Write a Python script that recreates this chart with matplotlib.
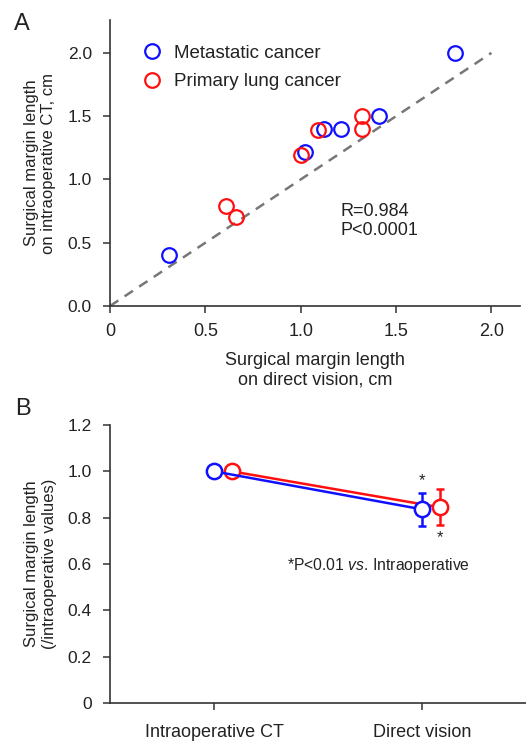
import matplotlib.pyplot as plt
import numpy as np

plt.rcParams['font.family'] = ['Liberation Sans', 'DejaVu Sans']
plt.rcParams['mathtext.fontset'] = 'custom'
plt.rcParams['mathtext.rm'] = 'Liberation Sans'
plt.rcParams['mathtext.it'] = 'Liberation Sans:italic'
plt.rcParams['text.color'] = '#222222'
plt.rcParams['axes.labelcolor'] = '#222222'
plt.rcParams['xtick.color'] = '#222222'
plt.rcParams['ytick.color'] = '#222222'

# panel A data: direct vision (x) vs intraoperative CT (y), cm
meta_direct = [0.31, 1.02, 1.12, 1.21, 1.41, 1.81]
meta_ct = [0.40, 1.22, 1.40, 1.40, 1.50, 2.00]
prim_direct = [0.61, 0.66, 1.00, 1.09, 1.32, 1.32]
prim_ct = [0.79, 0.70, 1.19, 1.39, 1.50, 1.40]

# panel B data: ratio to intraoperative values
groups = ['Intraoperative CT', 'Direct vision']
meta_ratio = [1.0, 0.836]
meta_err = [0.0, 0.07]
prim_ratio = [1.0, 0.845]
prim_err = [0.0, 0.077]

blue = '#1010ff'
red = '#ff1010'
axcol = '#333333'

fig = plt.figure(figsize=(5.26, 7.42), dpi=100)

## --Panel A
ax1 = fig.add_axes([110/526, 1-306/742, 410/526, 286/742])
ax1.plot([0, 2], [0, 2], ls=(0, (4, 3)), color='#777777', lw=1.8, zorder=1)
ax1.plot(meta_direct, meta_ct, 'o', mfc='none', mec=blue, mew=1.6, ms=10.5,
         label='Metastatic cancer', zorder=3)
ax1.plot(prim_direct, prim_ct, 'o', mfc='none', mec=red, mew=1.6, ms=10.5,
         label='Primary lung cancer', zorder=3)
ax1.set_xlim(0, 2.15)
ax1.set_ylim(0, 2.26)
ax1.set_xticks([0, 0.5, 1.0, 1.5, 2.0])
ax1.set_xticklabels(['0', '0.5', '1.0', '1.5', '2.0'])
ax1.set_yticks([0, 0.5, 1.0, 1.5, 2.0])
ax1.set_yticklabels(['0.0', '0.5', '1.0', '1.5', '2.0'])
ax1.set_xlabel('Surgical margin length\non direct vision, cm', fontsize=13, labelpad=9,
               linespacing=1.2)
ax1.set_ylabel('Surgical margin length\non intraoperative CT, cm', fontsize=12, labelpad=8)
ax1.text(1.21, 0.81, 'R=0.984\nP<0.0001', fontsize=13, va='top', linespacing=1.15)
leg = ax1.legend(loc='upper left', frameon=False, fontsize=13.5, handletextpad=0.35,
                 bbox_to_anchor=(0.048, 0.94), borderaxespad=0, labelspacing=0.6,
                 handlelength=1.6)

## --Panel B
ax2 = fig.add_axes([110/526, 1-703/742, 416/526, 278/742])
xb = np.arange(1, len(groups)+1)
ax2.errorbar(xb, meta_ratio, yerr=meta_err, fmt='-o', color=blue, mfc='white',
             mec=blue, mew=1.8, ms=11, lw=1.8, capsize=3, capthick=1.8, zorder=3)
ax2.errorbar(xb+0.085, prim_ratio, yerr=prim_err, fmt='-o', color=red, mfc='white',
             mec=red, mew=1.8, ms=11, lw=1.8, capsize=3, capthick=1.8, zorder=2)
ax2.text(xb[1], 0.958, '*', ha='center', va='center', fontsize=12)
ax2.text(xb[1]+0.085, 0.712, '*', ha='center', va='center', fontsize=12)
ax2.text(1.35, 0.593, '*P<0.01 $\\it{vs}$. Intraoperative', fontsize=11.3, va='center')
ax2.set_xlim(0.5, 2.5)
ax2.set_ylim(0, 1.2)
ax2.set_xticks(xb)
ax2.set_xticklabels(groups)
ax2.set_yticks([0, 0.2, 0.4, 0.6, 0.8, 1.0, 1.2])
ax2.set_yticklabels(['0', '0.2', '0.4', '0.6', '0.8', '1.0', '1.2'])
ax2.set_ylabel('Surgical margin length\n(/intraoperative values)', fontsize=12, labelpad=8)

fig.text(22/526, 1-24/742, 'A', fontsize=17, ha='center', va='center')
fig.text(23/526, 1-409/742, 'B', fontsize=17, ha='center', va='center')

for ax in (ax1, ax2):
    ax.spines['top'].set_visible(False)
    ax.spines['right'].set_visible(False)
    for s in ('left', 'bottom'):
        ax.spines[s].set_color(axcol)
        ax.spines[s].set_linewidth(1.2)
    ax.tick_params(direction='out', length=5, width=1.1, color=axcol, labelsize=13, pad=7)
    ax.tick_params(axis='y', labelsize=12.5, pad=8)
ax2.tick_params(axis='x', pad=10)

fig.savefig('out.png', dpi=100)
